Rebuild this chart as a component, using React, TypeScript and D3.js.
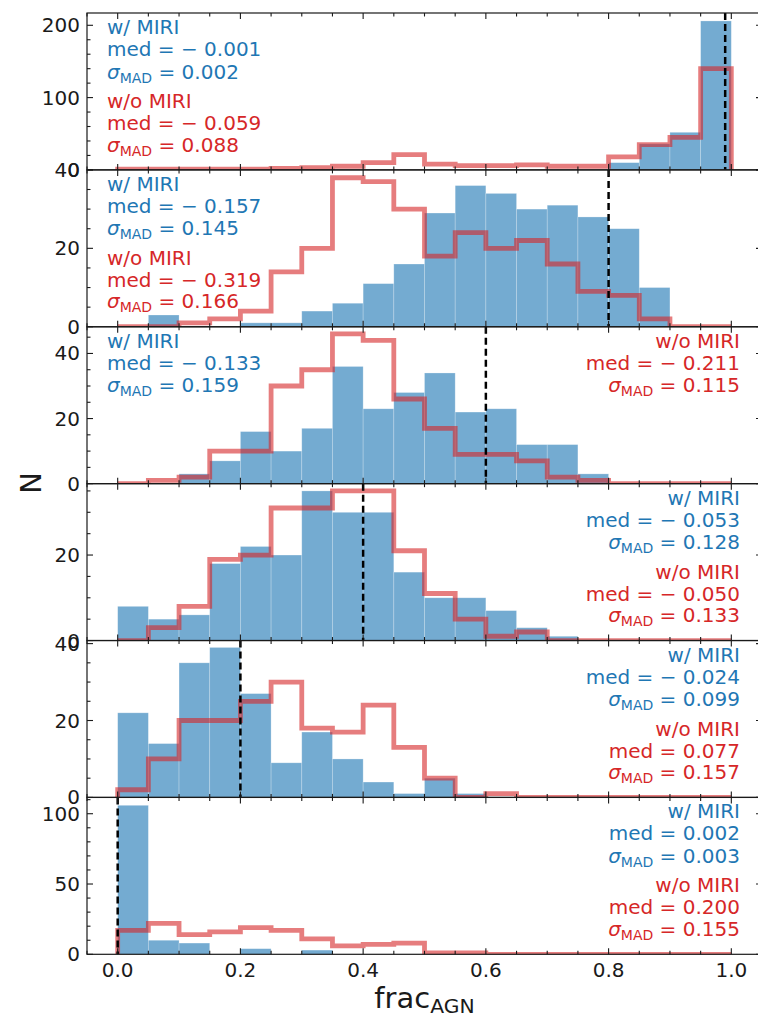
import React from 'react';
import * as d3 from 'd3';

// ---------- data ----------
const binEdges = [0, 0.05, 0.1, 0.15, 0.2, 0.25, 0.3, 0.35, 0.4, 0.45, 0.5, 0.55, 0.6, 0.65, 0.7, 0.75, 0.8, 0.85, 0.9, 0.95, 1.0];

const withMiri1 = [0, 0, 0, 0, 0, 0, 0, 0, 0, 0, 0, 0, 0, 0, 0, 0, 10, 36, 52, 206];
const withoutMiri1 = [1, 1, 1, 1, 1, 2, 3, 5, 10, 21, 8, 6, 6, 7, 5, 5, 18, 35, 45, 140];

const withMiri2 = [0, 3, 0, 0, 1, 1, 4, 6, 11, 16, 29, 36, 34, 30, 31, 28, 25, 10, 0, 0];
const withoutMiri2 = [0, 0, 1, 2, 4, 14, 20, 38, 37, 30, 18, 24, 20, 22, 16, 9, 8, 2, 0, 0];

const withMiri3 = [0, 0, 3, 7, 16, 10, 17, 36, 23, 28, 34, 22, 23, 12, 12, 3, 0, 0, 0, 0];
const withoutMiri3 = [0, 1, 2, 10, 10, 30, 35, 46, 44, 26, 17, 9, 9, 7, 2, 1, 0, 0, 0, 0];

const withMiri4 = [8, 5, 6, 18, 22, 20, 35, 30, 30, 16, 10, 10, 7, 3, 1, 0, 0, 0, 0, 0];
const withoutMiri4 = [0, 3, 8, 19, 20, 31, 31, 35, 35, 21, 11, 5, 1, 2, 0, 0, 0, 0, 0, 0];

const withMiri5 = [22, 14, 35, 39, 27, 9, 17, 10, 4, 1, 5, 1, 0, 0, 0, 0, 0, 0, 0, 0];
const withoutMiri5 = [2, 10, 20, 20, 25, 30, 18, 17, 24, 13, 5, 0, 1, 0, 0, 0, 0, 0, 0, 0];

const withMiri6 = [106, 10, 8, 0, 4, 0, 3, 0, 0, 0, 0, 0, 0, 0, 0, 0, 0, 0, 0, 0];
const withoutMiri6 = [17, 22, 14, 16, 19, 17, 11, 6, 7, 8, 1, 1, 0, 0, 0, 0, 0, 0, 0, 0];

const truthValues = [0.99, 0.8, 0.6, 0.4, 0.2, 0.0];
const yMaxValues = [217, 40, 48.2, 36.7, 40.8, 111.6];
const yMajorTicks = [[0, 100, 200], [0, 20, 40], [0, 20, 40], [0, 20], [0, 20, 40], [0, 50, 100]];
const yMinorStep = [20, 5, 5, 5, 5, 10];

const blueMed = ['\u2212 0.001', '\u2212 0.157', '\u2212 0.133', '\u2212 0.053', '\u2212 0.024', '0.002'];
const blueSig = ['0.002', '0.145', '0.159', '0.128', '0.099', '0.003'];
const redMed = ['\u2212 0.059', '\u2212 0.319', '\u2212 0.211', '\u2212 0.050', '0.077', '0.200'];
const redSig = ['0.088', '0.166', '0.115', '0.133', '0.157', '0.155'];
// text layout per panel: [blue side, blue first row, red side, red first row]
const textLayout: [string, number, string, number][] = [
  ['left', 0, 'left', 3],
  ['left', 0, 'left', 3],
  ['left', 0, 'right', 0],
  ['right', 0, 'right', 3],
  ['right', 0, 'right', 3],
  ['right', 0, 'right', 3],
];

const xMajorTicks = [0, 0.2, 0.4, 0.6, 0.8, 1.0];
const xTickLabels = ['0.0', '0.2', '0.4', '0.6', '0.8', '1.0'];

// ---------- layout ----------
const W = 758;
const H = 1021;
const left = 87;
const right = 762;
const top = 13;
const bottom = 954.3;
const nPanels = 6;
const panelH = (bottom - top) / nPanels;
const BLUE = '#1f77b4';
const RED = '#d62728';
const INK = '#1a1a1a';
const FONT = '"DejaVu Sans", sans-serif';
const rowOffsets = [21, 43, 65.5, 95, 117, 138.5];

const x = d3.scaleLinear().domain([-0.05, 1.05]).range([left, right]);
const xMinor = d3.range(-0.05, 1.0501, 0.05).map((v) => Math.round(v * 100) / 100);

const withMiri = [withMiri1, withMiri2, withMiri3, withMiri4, withMiri5, withMiri6];
const withoutMiri = [withoutMiri1, withoutMiri2, withoutMiri3, withoutMiri4, withoutMiri5, withoutMiri6];

function StatBlock({ side, row0, panelTop, color, label, med, sig }: any) {
  const tx = side === 'left' ? 107 : 740;
  const anchor = side === 'left' ? 'start' : 'end';
  const fs = 20;
  return (
    <g fill={color} fontFamily={FONT} fontSize={fs} textAnchor={anchor}>
      <text x={tx} y={panelTop + rowOffsets[row0]}>{label}</text>
      <text x={tx} y={panelTop + rowOffsets[row0 + 1]} xmlSpace="preserve">{'med = ' + med}</text>
      <text x={tx} y={panelTop + rowOffsets[row0 + 2]} xmlSpace="preserve">
        <tspan fontStyle="italic">{'\u03c3'}</tspan>
        <tspan fontSize={14} dy={4}>MAD</tspan>
        <tspan dy={-4}>{' = ' + sig}</tspan>
      </text>
    </g>
  );
}

function Panel({ i }: { i: number }) {
  const pTop = top + i * panelH;
  const pBot = pTop + panelH;
  const y = d3.scaleLinear().domain([0, yMaxValues[i]]).range([pBot, pTop]);
  const blue = withMiri[i];
  const red = withoutMiri[i];
  const pts: [number, number][] = [[x(binEdges[0]), y(0)]];
  red.forEach((v, k) => {
    pts.push([x(binEdges[k]), y(v)]);
    pts.push([x(binEdges[k + 1]), y(v)]);
  });
  pts.push([x(binEdges[binEdges.length - 1]), y(0)]);
  const stepPath = d3.line()(pts) || '';
  const minors = d3.range(0, yMaxValues[i] + 0.001, yMinorStep[i]).filter((v) => !yMajorTicks[i].includes(v));
  const clipId = 'clip' + i;
  const tl = textLayout[i];
  return (
    <g>
      <defs>
        <clipPath id={clipId}>
          <rect x={left} y={pTop} width={right - left} height={panelH} />
        </clipPath>
      </defs>
      <g clipPath={`url(#${clipId})`}>
        {blue.map((v, k) =>
          v > 0 ? (
            <rect
              key={k}
              x={x(binEdges[k])}
              y={y(v)}
              width={x(binEdges[k + 1]) - x(binEdges[k])}
              height={y(0) - y(v)}
              fill={BLUE}
              fillOpacity={0.62}
              stroke="#ffffff"
              strokeOpacity={0.35}
              strokeWidth={0.7}
            />
          ) : null
        )}
        <path d={stepPath} fill="none" stroke={RED} strokeOpacity={0.6} strokeWidth={4.8} strokeLinejoin="miter" />
        <line
          x1={x(truthValues[i])}
          x2={x(truthValues[i])}
          y1={pTop}
          y2={pBot}
          stroke="#000"
          strokeWidth={2.5}
          strokeDasharray="7,4"
        />
      </g>
      {/* frame */}
      <rect x={left} y={pTop} width={right - left} height={panelH} fill="none" stroke={INK} strokeWidth={1.2} />
      {/* x ticks top and bottom */}
      {xMinor.map((v) => {
        const major = xMajorTicks.some((m) => Math.abs(m - v) < 1e-6);
        const len = major ? 6 : 3.5;
        return (
          <g key={'xt' + v} stroke={INK} strokeWidth={1.1}>
            <line x1={x(v)} x2={x(v)} y1={pBot} y2={pBot - len} />
            <line x1={x(v)} x2={x(v)} y1={pTop} y2={pTop + len} />
          </g>
        );
      })}
      {/* y ticks */}
      {yMajorTicks[i].map((v) => (
        <g key={'ym' + v}>
          <line x1={left} x2={left + 6} y1={y(v)} y2={y(v)} stroke={INK} strokeWidth={1.1} />
          <line x1={right} x2={right - 6} y1={y(v)} y2={y(v)} stroke={INK} strokeWidth={1.1} />
          <text x={80} y={y(v) + 7} textAnchor="end" fontFamily={FONT} fontSize={20} fill={INK}>
            {v}
          </text>
        </g>
      ))}
      {minors.map((v) => (
        <g key={'yn' + v} stroke={INK} strokeWidth={1.1}>
          <line x1={left} x2={left + 3.5} y1={y(v)} y2={y(v)} />
          <line x1={right} x2={right - 3.5} y1={y(v)} y2={y(v)} />
        </g>
      ))}
      <StatBlock side={tl[0]} row0={tl[1]} panelTop={pTop} color={BLUE} label="w/ MIRI" med={blueMed[i]} sig={blueSig[i]} />
      <StatBlock side={tl[2]} row0={tl[3]} panelTop={pTop} color={RED} label="w/o MIRI" med={redMed[i]} sig={redSig[i]} />
    </g>
  );
}

export default function App() {
  return (
    <svg
      width={W}
      height={H}
      viewBox={`0 0 ${W} ${H}`}
      style={{ position: 'absolute', left: 0, top: 0, background: '#fff' }}
    >
      <rect x={0} y={0} width={W} height={H} fill="#fff" />
      {d3.range(nPanels).map((i) => (
        <Panel key={i} i={i} />
      ))}
      {xMajorTicks.map((v, k) => (
        <text key={'xl' + k} x={x(v)} y={976.5} textAnchor="middle" fontFamily={FONT} fontSize={20} fill={INK}>
          {xTickLabels[k]}
        </text>
      ))}
      <text x={424.5} y={1008} textAnchor="middle" fontFamily={FONT} fontSize={29} fill={INK}>
        frac
        <tspan fontSize={20.3} dy={5}>AGN</tspan>
      </text>
      <text
        transform="translate(41,483) rotate(-90)"
        textAnchor="middle"
        fontFamily={FONT}
        fontSize={29}
        fill={INK}
      >
        N
      </text>
    </svg>
  );
}
